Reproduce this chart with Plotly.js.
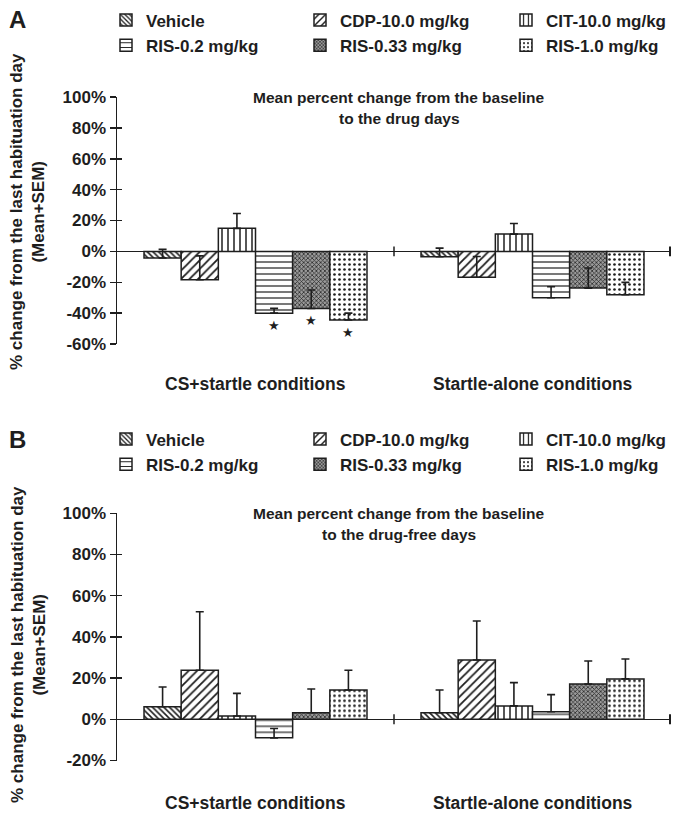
<!DOCTYPE html>
<html>
<head>
<meta charset="utf-8">
<script src="https://cdn.plot.ly/plotly-3.0.1.min.js"></script>
<style>html,body{margin:0;padding:0;background:#fff;}#chart{width:673px;height:816px;}</style>
</head>
<body>
<div id="chart"></div>
<script>
// ---------- data ----------
const categories = ['CS+startle conditions', 'Startle-alone conditions'];
const seriesNames = ['Vehicle', 'CDP-10.0 mg/kg', 'CIT-10.0 mg/kg', 'RIS-0.2 mg/kg', 'RIS-0.33 mg/kg', 'RIS-1.0 mg/kg'];

// Panel A: drug days (mean % change, [CS+startle, Startle-alone])
const vehicleA = [-4.3, -3.5];
const cdpA     = [-18.4, -16.8];
const citA     = [14.9, 11.2];
const ris02A   = [-40.0, -30.0];
const ris033A  = [-37.0, -23.8];
const ris10A   = [-44.5, -28.1];
const vehicleA_sem = [5.6, 5.6];
const cdpA_sem     = [15.5, 13.5];
const citA_sem     = [9.6, 6.9];
const ris02A_sem   = [3.1, 7.1];
const ris033A_sem  = [12.0, 13.0];
const ris10A_sem   = [4.5, 8.0];
// significance flags (asterisks) for panel A
const sigA = [[false, false], [false, false], [false, false], [true, false], [true, false], [true, false]];

// Panel B: drug-free days
const vehicleB = [6.1, 3.2];
const cdpB     = [23.8, 28.8];
const citB     = [1.6, 6.5];
const ris02B   = [-9.0, 3.7];
const ris033B  = [3.2, 17.1];
const ris10B   = [14.2, 19.6];
const vehicleB_sem = [9.6, 11.0];
const cdpB_sem     = [28.4, 18.9];
const citB_sem     = [11.0, 11.3];
const ris02B_sem   = [4.5, 8.3];
const ris033B_sem  = [11.5, 11.2];
const ris10B_sem   = [9.6, 9.7];

const yTicksA = [-60, -40, -20, 0, 20, 40, 60, 80, 100];
const yTicksB = [-20, 0, 20, 40, 60, 80, 100];

// ---------- styling ----------
const FONT = 'Liberation Sans, Arial, Helvetica, sans-serif';
const INK = '#1e1e1e';
const W = 673, H = 816;
const plotL = 117, plotR = 671;
const px = p => (p - plotL) / (plotR - plotL);
const py = p => 1 - p / H;

const patterns = [
  {shape: '\\', size: 4, solidity: 0.4,  fgcolor: INK, bgcolor: '#ffffff'},
  {shape: '/',  size: 6, solidity: 0.3,  fgcolor: INK, bgcolor: '#ffffff'},
  {shape: '|',  size: 6, solidity: 0.25, fgcolor: INK, bgcolor: '#ffffff'},
  {shape: '-',  size: 6, solidity: 0.2,  fgcolor: INK, bgcolor: '#ffffff'},
  {shape: 'x',  size: 3, solidity: 0.45, fgcolor: '#2a2a2a', bgcolor: '#9a9a9a'},
  {shape: '.',  size: 5, solidity: 0.22, fgcolor: INK, bgcolor: '#ffffff'}
];

const valuesA = [vehicleA, cdpA, citA, ris02A, ris033A, ris10A];
const semA = [vehicleA_sem, cdpA_sem, citA_sem, ris02A_sem, ris033A_sem, ris10A_sem];
const valuesB = [vehicleB, cdpB, citB, ris02B, ris033B, ris10B];
const semB = [vehicleB_sem, cdpB_sem, citB_sem, ris02B_sem, ris033B_sem, ris10B_sem];

const bargap = 0.195;
const traces = [];
function addPanel(values, sems, xa, ya, legendIds) {
  values.forEach((v, i) => {
    traces.push({
      type: 'bar', x: categories, y: v, name: seriesNames[i],
      xaxis: xa, yaxis: ya,
      legend: legendIds[i % 3],
      marker: {color: '#ffffff', line: {color: INK, width: 1.5}, pattern: patterns[i]},
      error_y: {type: 'data', symmetric: false, array: sems[i], arrayminus: v.map(() => 0),
                color: INK, thickness: 1.6, width: 4},
      hoverinfo: 'skip'
    });
  });
}
addPanel(valuesA, semA, 'x', 'y', ['legend', 'legend2', 'legend3']);
addPanel(valuesB, semB, 'x2', 'y2', ['legend4', 'legend5', 'legend6']);
// empty traces so that the inside-tick overlay axes are drawn
traces.push({type: 'scatter', x: [null], y: [null], xaxis: 'x', yaxis: 'y3', showlegend: false, hoverinfo: 'skip'});
traces.push({type: 'scatter', x: [null], y: [null], xaxis: 'x2', yaxis: 'y4', showlegend: false, hoverinfo: 'skip'});

const domA = [py(344), py(97)];
const domB = [py(760.5), py(513.3)];
const tickFont = {family: FONT, size: 17, color: INK, weight: 'bold'};

function yAxis(dom, range, ticks, anchor) {
  return {
    domain: dom, range: range, anchor: anchor, tickvals: ticks, ticktext: ticks.map(t => t + '%'),
    ticks: 'outside', ticklen: 6, tickwidth: 1.5, tickcolor: INK,
    showline: true, linewidth: 1.5, linecolor: INK,
    zeroline: true, zerolinecolor: INK, zerolinewidth: 1.5,
    showgrid: false, tickfont: tickFont, fixedrange: true, automargin: false
  };
}
function yOverlay(over, range, ticks, anchor) {
  return {
    overlaying: over, range: range, anchor: anchor, tickvals: ticks, showticklabels: false,
    ticks: 'inside', ticklen: 5, tickwidth: 1.5, tickcolor: INK,
    showline: false, zeroline: false, showgrid: false
  };
}
function xAxis(anchor) {
  return {
    domain: [0, 1], anchor: anchor, type: 'category', range: [-0.5, categories.length - 0.5],
    showticklabels: false, ticks: '', showline: false, showgrid: false, zeroline: false
  };
}

// boundary ticks on the zero line
const shapes = [];
function zeroTicks(xref, yref, half) {
  for (let k = 1; k <= categories.length; k++) {
    const last = k === categories.length;
    shapes.push({type: 'line', xref: xref, yref: yref, x0: k - 0.5, x1: k - 0.5,
                 y0: -half, y1: half, line: {color: INK, width: last ? 4 : 1.5}});
  }
}
zeroTicks('x', 'y', 3.2);
zeroTicks('x2', 'y2', 2.4);

const annotations = [];
const labFont = (s) => ({family: FONT, size: s, color: INK, weight: 'bold'});
function txt(text, x, y, size, extra) {
  annotations.push(Object.assign({text: text, x: x, y: y, xref: 'paper', yref: 'paper',
    showarrow: false, font: labFont(size), xanchor: 'center', yanchor: 'middle'}, extra || {}));
}
// panel letters
txt('A', px(18), py(19), 24);
txt('B', px(18), py(439), 24);
// panel titles
txt('Mean percent change from the baseline', px(399), py(97), 15.5);
txt('to the drug days', px(399), py(118), 15.5);
txt('Mean percent change from the baseline', px(399), py(513), 15.5);
txt('to the drug-free days', px(399), py(534), 15.5);
// category labels
categories.forEach((c) => {
  annotations.push({text: c, x: c, y: py(384), xref: 'x', yref: 'paper', showarrow: false,
    font: labFont(17.5), xanchor: 'center', yanchor: 'middle'});
  annotations.push({text: c, x: c, y: py(803), xref: 'x2', yref: 'paper', showarrow: false,
    font: labFont(17.5), xanchor: 'center', yanchor: 'middle'});
});
// y-axis titles
const yTitle = '% change from the last habituation day<br>(Mean+SEM)';
txt(yTitle, px(28), py(212), 17, {textangle: -90});
txt(yTitle, px(28), py(645), 17, {textangle: -90});
// significance stars
const nS = seriesNames.length, gw = 1 - bargap;
sigA.forEach((flags, i) => {
  flags.forEach((f, j) => {
    if (!f) return;
    annotations.push({text: '★', xref: 'x', yref: 'y', x: j - gw / 2 + (i + 0.5) * gw / nS,
      y: valuesA[i][j], yanchor: 'top', yshift: -3, showarrow: false,
      font: {family: 'DejaVu Sans, sans-serif', size: 13, color: INK}});
  });
});

const legFont = {family: FONT, size: 17, color: INK, weight: 'bold'};
const colTextX = [146, 340, 546];
function legend(col, yMid) {
  return {orientation: 'v', x: px(colTextX[col] - 40), xanchor: 'left', y: py(yMid), yanchor: 'middle',
          xref: 'paper', yref: 'paper', font: legFont,
          bgcolor: 'rgba(0,0,0,0)', borderwidth: 0, itemclick: false, itemdoubleclick: false,
          traceorder: 'normal', tracegroupgap: 0};
}

const layout = {
  width: W, height: H, margin: {l: plotL, r: W - plotR, t: 0, b: 0, autoexpand: false},
  paper_bgcolor: '#ffffff', plot_bgcolor: 'rgba(0,0,0,0)',
  barmode: 'group', bargap: bargap, bargroupgap: 0,
  showlegend: true,
  xaxis: xAxis('y'), xaxis2: xAxis('y2'),
  yaxis: yAxis(domA, [-60, 100], yTicksA, 'x'),
  yaxis2: yAxis(domB, [-20, 100], yTicksB, 'x2'),
  yaxis3: yOverlay('y', [-60, 100], yTicksA, 'x'),
  yaxis4: yOverlay('y2', [-20, 100], yTicksB, 'x2'),
  legend: legend(0, 33), legend2: legend(1, 33), legend3: legend(2, 33),
  legend4: legend(0, 452), legend5: legend(1, 452), legend6: legend(2, 452),
  shapes: shapes, annotations: annotations
};

Plotly.newPlot('chart', traces, layout, {displayModeBar: false, staticPlot: true});
</script>
</body>
</html>
